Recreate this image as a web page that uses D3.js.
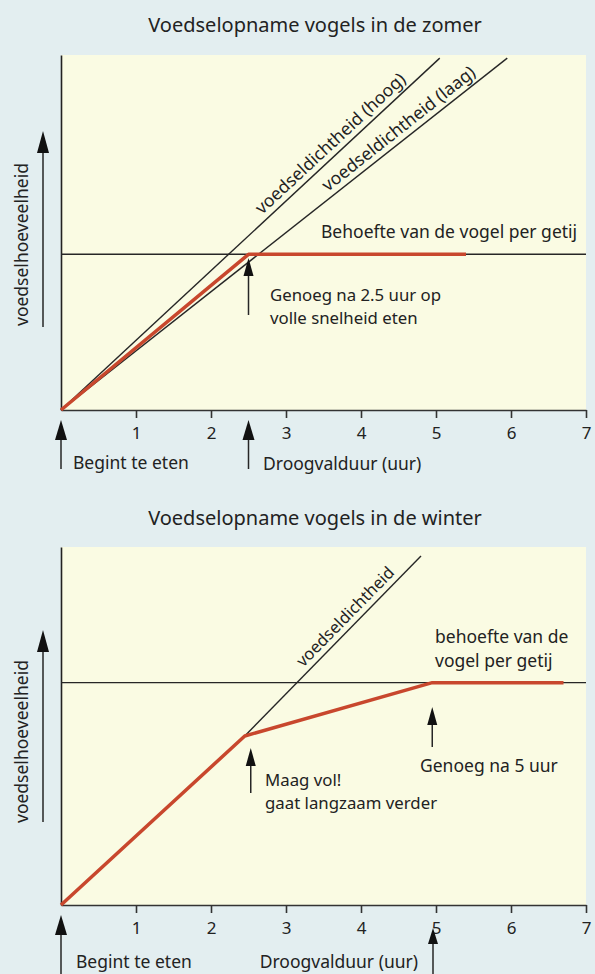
<!DOCTYPE html>
<html>
<head>
<meta charset="utf-8">
<script src="https://cdn.jsdelivr.net/npm/d3@7"></script>
<style>
body { margin: 0; background: #e3eef0; }
svg { display: block; }
text { font-family: "Noto Sans", sans-serif; fill: #222; }
</style>
</head>
<body>
<script>
// tick labels (uur)
var hourTicks = [1, 2, 3, 4, 5, 6, 7];

// zomer: voedsel (behoefte = 1) tegen tijd in uren
var summerHigh = [[0, 0], [5.05, 2.26]];
var summerLow = [[0, 0], [5.95, 2.26]];
var summerNeed = [[0, 1], [7, 1]];
var summerIntake = [[0, 0], [2.5, 1], [5.4, 1]];

// winter
var winterDensity = [[2.45, 0.76], [4.8, 1.57]];
var winterNeed = [[0, 1], [7, 1]];
var winterIntake = [[0, 0], [2.45, 0.76], [4.95, 1], [6.7, 1]];

var W = 595, H = 974;
var RED = "#c8472d", INK = "#262626";
var FS = 17.5;

var svg = d3.select("body").append("svg")
    .attr("width", W)
    .attr("height", H);

svg.append("rect")
    .attr("width", W)
    .attr("height", H)
    .attr("fill", "#e3eef0");

var x = d3.scaleLinear().domain([0, 7]).range([61, 586]);

function arrow(g, ax, tip, end, w, h) {
    g.append("line")
        .attr("x1", ax).attr("x2", ax)
        .attr("y1", tip + h - 2).attr("y2", end)
        .attr("stroke", INK)
        .attr("stroke-width", 1.5);
    g.append("path")
        .attr("d", "M" + ax + "," + tip + "L" + (ax + w / 2) + "," + (tip + h) + "L" + (ax - w / 2) + "," + (tip + h) + "Z")
        .attr("fill", "#111");
}

function panel(top, bottom, ymax) {
    var y = d3.scaleLinear().domain([0, ymax]).range([bottom, top]);
    var g = svg.append("g");

    g.append("rect")
        .attr("x", x(0))
        .attr("y", top)
        .attr("width", x(7) - x(0))
        .attr("height", bottom - top)
        .attr("fill", "#fafbe3");

    var xAxis = g.append("g")
        .attr("transform", "translate(0," + bottom + ")")
        .call(d3.axisBottom(x).tickValues(hourTicks).tickFormat(d3.format("d"))
            .tickSize(8).tickSizeOuter(0).tickPadding(9));
    xAxis.selectAll("path, line").attr("stroke", "#333").attr("stroke-width", 1.6);
    xAxis.selectAll("text")
        .attr("font-family", "Noto Sans, sans-serif")
        .attr("font-size", 17)
        .attr("fill", "#222");

    var yAxis = g.append("g")
        .attr("transform", "translate(" + x(0) + ",0)")
        .call(d3.axisLeft(y).tickValues([]).tickSizeOuter(0));
    yAxis.select("path").attr("stroke", "#222").attr("stroke-width", 1.6);

    return { g: g, y: y };
}

function lineOn(p, data, color, width) {
    var line = d3.line()
        .x(function(d) { return x(d[0]); })
        .y(function(d) { return p.y(d[1]); });
    p.g.append("path")
        .datum(data)
        .attr("d", line)
        .attr("fill", "none")
        .attr("stroke", color)
        .attr("stroke-width", width)
        .attr("stroke-linejoin", "round");
}

function slopeLabel(p, data, t, txt, size) {
    var x0 = x(data[0][0]), y0 = p.y(data[0][1]);
    var x1 = x(data[1][0]), y1 = p.y(data[1][1]);
    var ang = Math.atan2(y1 - y0, x1 - x0) * 180 / Math.PI;
    var f = (t - data[0][0]) / (data[1][0] - data[0][0]);
    var px = x0 + (x1 - x0) * f, py = y0 + (y1 - y0) * f;
    p.g.append("text")
        .attr("transform", "translate(" + px + "," + py + ") rotate(" + ang + ")")
        .attr("dy", -6)
        .attr("text-anchor", "middle")
        .attr("font-size", size)
        .text(txt);
}

// one text element, one tspan per line
function label(g, lx, ly, lines, size, anchor, lh) {
    if (typeof lines == "string") lines = [lines];
    var t = g.append("text")
        .attr("x", lx)
        .attr("y", ly)
        .attr("font-size", size || FS)
        .attr("text-anchor", anchor || "start");
    t.selectAll("tspan")
        .data(lines)
        .enter()
        .append("tspan")
        .attr("x", lx)
        .attr("dy", function(d, i) { return i == 0 ? 0 : (lh || 21); })
        .text(function(d) { return d; });
}

function yLabel(g, bottom) {
    g.append("text")
        .attr("transform", "translate(28," + bottom + ") rotate(-90)")
        .attr("font-size", FS)
        .text("voedselhoeveelheid");
}

// ---- zomer ----
var top1 = panel(55, 410, 2.28);
label(svg, 315, 32, "Voedselopname vogels in de zomer", 20, "middle");
lineOn(top1, summerNeed, INK, 1.4);
lineOn(top1, summerHigh, INK, 1.4);
lineOn(top1, summerLow, INK, 1.4);
lineOn(top1, summerIntake, RED, 3.5);
slopeLabel(top1, summerHigh, 3.7, "voedseldichtheid (hoog)", 17.5);
slopeLabel(top1, summerLow, 4.6, "voedseldichtheid (laag)", 17.5);
label(top1.g, 321, 238, "Behoefte van de vogel per getij");
arrow(top1.g, x(2.5), 258, 315, 10, 18);
label(top1.g, 270, 301, ["Genoeg na 2.5 uur op", "volle snelheid eten"], 16.8, "start", 22.9);
arrow(top1.g, x(0), 420, 469, 12, 20);
arrow(top1.g, x(2.5), 420, 469, 12, 20);
label(top1.g, 73, 469, "Begint te eten");
label(top1.g, 263, 470, "Droogvalduur (uur)");
arrow(top1.g, 43, 131, 327, 12, 22);
yLabel(top1.g, 326);

// ---- winter ----
var bot = panel(547, 905, 1.61);
label(svg, 315, 525, "Voedselopname vogels in de winter", 20, "middle");
lineOn(bot, winterNeed, INK, 1.4);
lineOn(bot, winterDensity, INK, 1.4);
lineOn(bot, winterIntake, RED, 3.5);
slopeLabel(bot, winterDensity, 3.9, "voedseldichtheid", 16.5);
label(bot.g, 435, 643, ["behoefte van de", "vogel per getij"], FS, "start", 24);
arrow(bot.g, x(4.95), 707, 747, 10, 18);
label(bot.g, 420, 772, "Genoeg na 5 uur");
arrow(bot.g, x(2.53), 748, 793, 10, 18);
label(bot.g, 265, 786, ["Maag vol!", "gaat langzaam verder"], 16.8, "start", 22.9);
arrow(bot.g, x(0), 915, 974, 12, 20);
arrow(bot.g, x(4.96), 928, 974, 10, 16);
label(bot.g, 76, 968, "Begint te eten");
label(bot.g, 418, 968, "Droogvalduur (uur)", FS, "end");
arrow(bot.g, 43, 630, 822, 12, 22);
yLabel(bot.g, 823);
</script>
</body>
</html>
